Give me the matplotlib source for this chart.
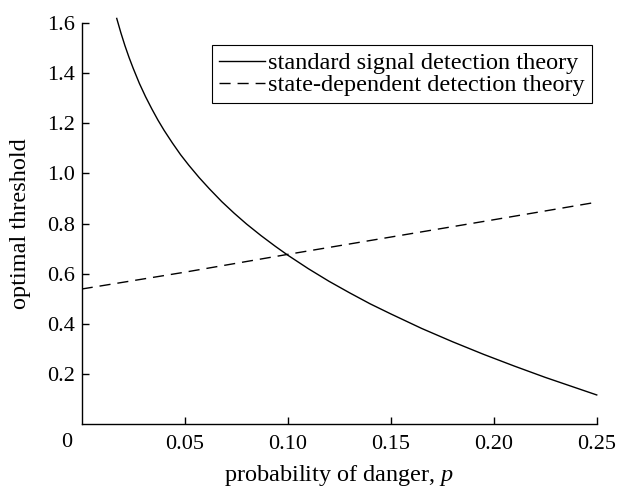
import matplotlib
matplotlib.use("Agg")
import matplotlib.pyplot as plt

plt.rcParams['font.family'] = ['Liberation Serif', 'DejaVu Serif']
plt.rcParams['mathtext.fontset'] = 'custom'
plt.rcParams['mathtext.it'] = 'Liberation Serif:italic'
plt.rcParams['mathtext.rm'] = 'Liberation Serif'

# values
p_sdt = [0.017, 0.019, 0.021, 0.023, 0.025, 0.028, 0.031, 0.034, 0.037, 0.040,
         0.044, 0.048, 0.052, 0.057, 0.062, 0.068, 0.074, 0.080, 0.087, 0.094,
         0.100, 0.110, 0.120, 0.130, 0.140, 0.150, 0.165, 0.180, 0.195, 0.210,
         0.225, 0.240, 0.250]
thr_sdt = [1.617, 1.560, 1.508, 1.461, 1.418, 1.358, 1.305, 1.257, 1.212, 1.171,
           1.121, 1.074, 1.032, 0.983, 0.938, 0.887, 0.841, 0.798, 0.752, 0.709,
           0.674, 0.620, 0.570, 0.524, 0.480, 0.440, 0.382, 0.329, 0.279, 0.232,
           0.187, 0.145, 0.117]

p_sddt = [0.0, 0.05, 0.10, 0.15, 0.20, 0.25]
thr_sddt = [0.539, 0.606, 0.677, 0.746, 0.815, 0.885]

labels = ["standard signal detection theory", "state-dependent detection theory"]
xticks = [0.05, 0.10, 0.15, 0.20, 0.25]
yticks = [0.2, 0.4, 0.6, 0.8, 1.0, 1.2, 1.4, 1.6]

fig = plt.figure(figsize=(6.3, 4.91), dpi=100)
ax = fig.add_axes([0.1297, 0.1358, 0.8175, 0.8180])

ax.plot(p_sdt, thr_sdt, color="black", lw=1.0, label=labels[0], clip_on=False)
l2, = ax.plot(p_sddt, thr_sddt, color="black", lw=1.0, label=labels[1])
l2.set_dashes([8, 5])

ax.set_xlim(0, 0.25)
ax.set_ylim(0, 1.6)
ax.set_xticks(xticks)
ax.set_xticklabels(["%.2f" % v for v in xticks])
ax.set_yticks(yticks)
ax.set_yticklabels(["%.1f" % v for v in yticks])
ax.tick_params(direction="in", length=5, width=1, labelsize=16, color="black")
ax.tick_params(axis="x", pad=8)
ax.tick_params(axis="y", pad=5)
ax.spines["top"].set_visible(False)
ax.spines["right"].set_visible(False)
for s in ["left", "bottom"]:
    ax.spines[s].set_linewidth(1.0)

# shared origin label
ax.text(-0.0072, -0.074, "0", fontsize=16, ha="center", va="center", clip_on=False)

ax.set_xlabel("probability of danger, $p$", fontsize=17.5)
ax.set_ylabel("optimal threshold", fontsize=17.5)
ax.xaxis.set_label_coords(0.5, -0.128)
ax.xaxis.label.set_va("center")
ax.yaxis.set_label_coords(-0.118, 0.5)
ax.yaxis.label.set_va("center")

leg = ax.legend(loc="upper right", bbox_to_anchor=(0.99, 0.945), borderaxespad=0,
                fontsize=17.5, handlelength=1.9, handletextpad=0.1, borderpad=0.3,
                labelspacing=0.0, fancybox=False, framealpha=1, edgecolor="black")
leg.get_frame().set_linewidth(0.8)

fig.savefig("out.png", dpi=100)
